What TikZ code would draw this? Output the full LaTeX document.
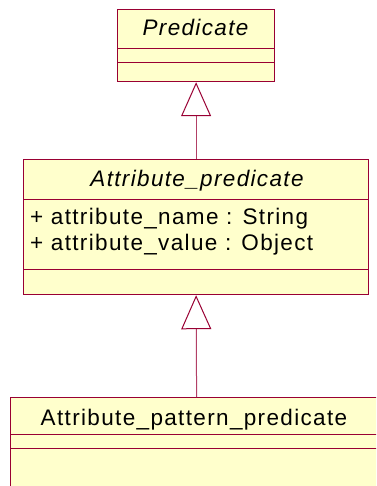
\documentclass[tikz,border=0pt]{standalone}
\usepackage{fontspec}
\usetikzlibrary{arrows.meta}
\newfontfamily\umlfont{Liberation Sans}[LetterSpace=6]
\definecolor{umlborder}{RGB}{153,0,51}
\definecolor{umlfill}{RGB}{255,255,204}
\tikzset{
  umlbox/.style={draw=umlborder, fill=umlfill, line width=1.2pt, rectangle, anchor=north west, inner sep=0pt},
  divider/.style={draw=umlborder, line width=0.9pt},
  umltext/.style={inner sep=0pt, font=\umlfont\fontsize{22.5}{26}\selectfont, text=black},
  umltitle/.style={umltext, anchor=base, font=\umlfont\itshape\fontsize{22.5}{26}\selectfont},
  gen/.style={draw=umlborder!75, line width=1pt, -{Triangle[fill=white, length=34pt, width=30pt, line width=1pt, color=umlborder]}}
}
\begin{document}
\begin{tikzpicture}[x=1pt,y=-1pt]
\useasboundingbox (0,0) rectangle (376,486);
\clip (0,0) rectangle (376,486);
% Predicate
\node[umlbox, minimum width=157pt, minimum height=72pt] (pred) at (117,9) {};
\draw[divider] (117,48) -- (274,48);
\draw[divider] (117,62) -- (274,62);
\node[umltitle] (predname) at (195.5,36) {Predicate};
% Attribute_predicate
\node[umlbox, minimum width=345pt, minimum height=135pt] (attr) at (23,159) {};
\draw[divider] (23,199) -- (368,199);
\draw[divider] (23,269) -- (368,269);
\node[umltitle] (attrname) at (197,186) {Attribute\_predicate};
\node[umltext, anchor=base west] (attr1) at (30,224) {+ attribute\_name : String};
\node[umltext, anchor=base west] (attr2) at (30,250) {+ attribute\_value : Object};
% Attribute_pattern_predicate
\node[umlbox, minimum width=372pt, minimum height=110pt] (bot) at (10,397) {};
\draw[divider] (10,434) -- (382,434);
\draw[divider] (10,448) -- (382,448);
\node[umltext, anchor=base] (botname) at (194,425) {Attribute\_pattern\_predicate};
% generalizations
\draw[gen] (attr.north) -- (pred.south);
\draw[gen] (bot.north) -- (attr.south);
\end{tikzpicture}
\end{document}
